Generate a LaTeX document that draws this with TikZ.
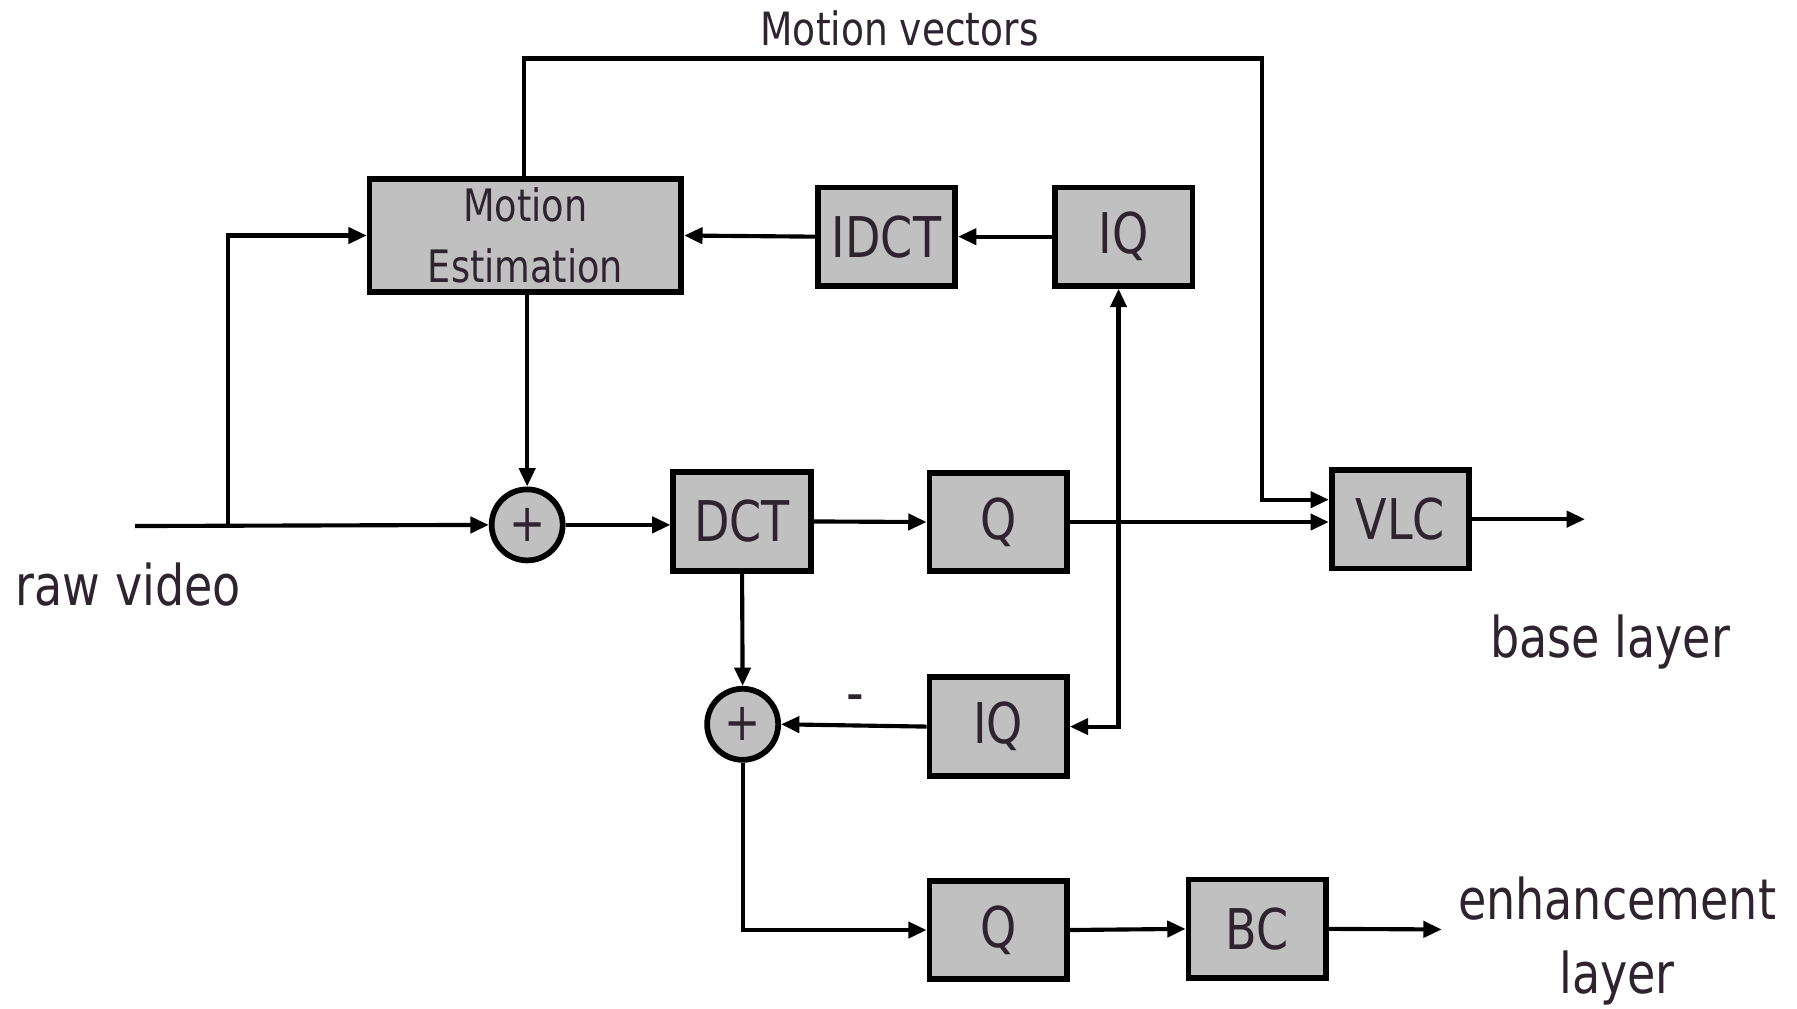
\documentclass[tikz,border=0pt]{standalone}
\usepackage{fontspec}
\setmainfont{DejaVu Sans}[FakeStretch=0.82]
\usetikzlibrary{arrows.meta}
\definecolor{boxfill}{RGB}{192,192,192}
\definecolor{txt}{RGB}{47,35,48}
\begin{document}
\begin{tikzpicture}[x=1pt,y=-1pt,
 blk/.style={draw=black,line width=5pt,fill=boxfill,minimum width=120pt,minimum height=86pt,inner sep=0pt,text=txt,font=\fontsize{49}{58}\selectfont},
 sumnode/.style={circle,draw=black,line width=5pt,fill=boxfill,minimum size=62pt,inner sep=0pt,text=txt,font=\fontsize{46}{50}\selectfont},
 conn/.style={line width=3.6pt,-{Triangle[length=16pt,width=14pt]}},
 lbl/.style={text=txt,font=\fontsize{49}{68}\selectfont,align=center,inner sep=0pt}]
\useasboundingbox (0,0) rectangle (1568,880);
% blocks
\node[blk,minimum width=272pt,minimum height=98pt,font=\fontsize{39}{53}\selectfont,align=center] (me) at (458.5,205.5) {Motion\\Estimation};
\node[blk] (idct) at (773.5,206.5) {IDCT};
\node[blk] (iqa) at (980.5,206.5) {IQ};
\node[sumnode] (s1) at (460,458) {+};
\node[blk] (dct) at (647.5,455) {DCT};
\node[blk] (qa) at (871,455.5) {Q};
\node[blk] (vlc) at (1222,453) {VLC};
\node[sumnode] (s2) at (648,632) {+};
\node[blk] (iqb) at (871,634) {IQ};
\node[blk] (qb) at (871,811.5) {Q};
\node[blk] (bc) at (1097,810.5) {BC};
% labels
\node[lbl] (raw) at (112,510) {raw video};
\node[lbl] (base) at (1405,560) {base layer};
\node[lbl,font=\fontsize{49}{65}\selectfont] (enh) at (1411,821) {enhancement\\layer};
\node[lbl,font=\fontsize{40}{48}\selectfont] (mv) at (785,25) {Motion vectors};
\node[lbl,font=\fontsize{52}{56}\selectfont] (minus) at (746,614) {-};
% coordinates
\coordinate (rin) at (118,459);
\coordinate (rbr) at (199,459);
\coordinate (mvtop) at (457,51);
\coordinate (mvr) at (1101,51);
\coordinate (vout) at (1383,457);
\coordinate (br) at (976,455);
\coordinate (eout) at (1258,811);
% connectors
\draw[conn] (rin) -- (s1.west);
\draw[conn] (rbr) |- (me.west);
\draw[conn] (me.north -| mvtop) -- (mvtop) -- (mvr) |- ([yshift=17pt]vlc.west);
\draw[conn] (s1.north |- me.south) -- (s1.north);
\draw[conn] (idct.west) -- (me.east);
\draw[conn] (iqa.west) -- (idct.east);
\draw[conn] (s1.east) -- (s1.east -| dct.west);
\draw[conn] (dct.east) -- (qa.west);
\draw[conn] (qa.east) -- (qa.east -| vlc.west);
\draw[conn] (vlc.east) -- (vlc.east -| vout);
\draw[conn] (br) -- (br |- iqa.south);
\draw[conn] (br) |- (iqb.east);
\draw[conn] (dct.south) -- (s2.north);
\draw[conn] (iqb.west) -- (s2.east);
\draw[conn] (s2.south) |- (qb.west);
\draw[conn] (qb.east) -- (bc.west);
\draw[conn] (bc.east) -- (eout);
\end{tikzpicture}
\end{document}
